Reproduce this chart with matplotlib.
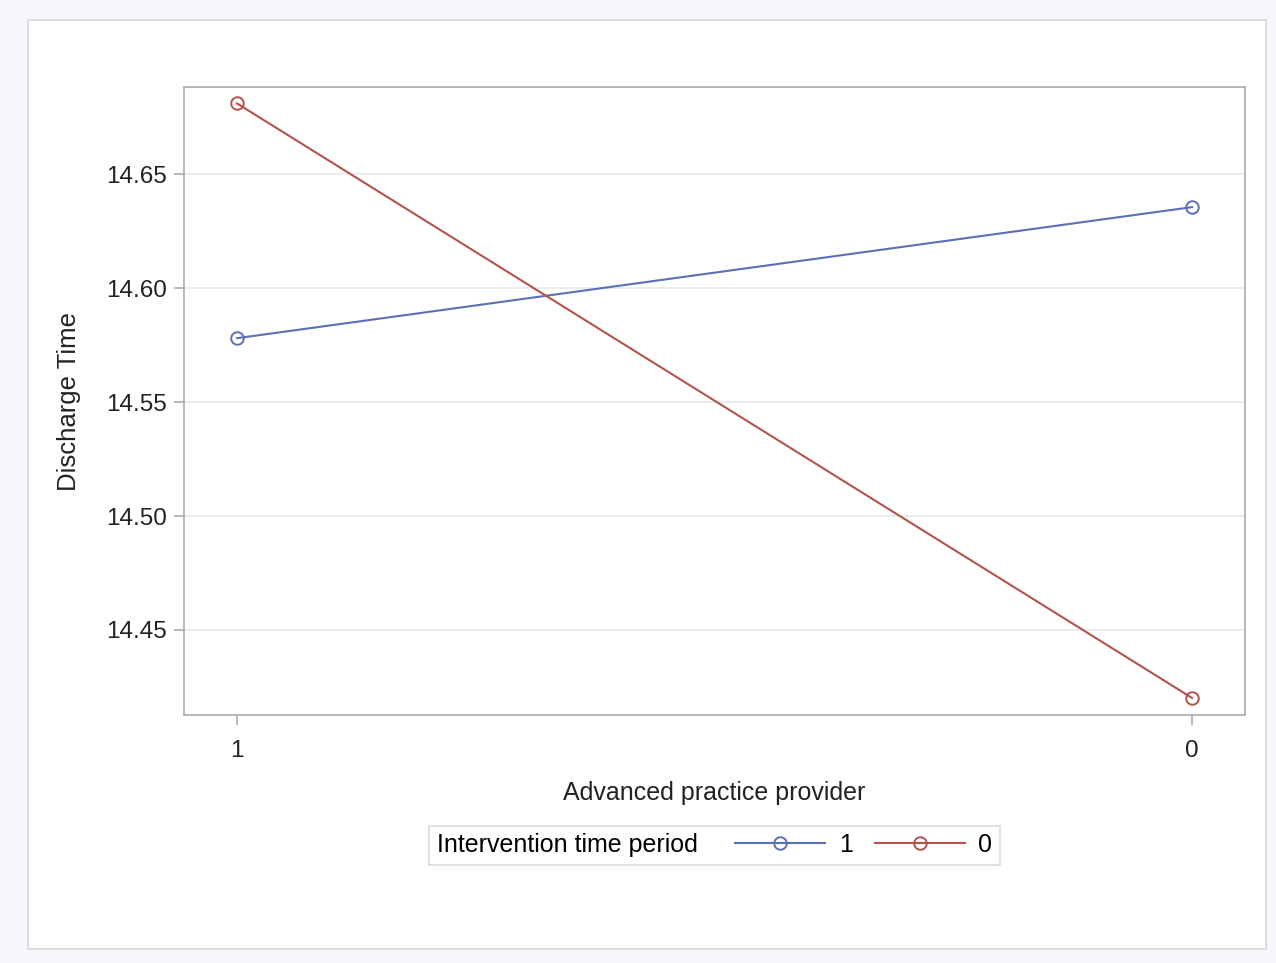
import matplotlib.pyplot as plt
from matplotlib.patches import Rectangle
from matplotlib.offsetbox import HPacker

plt.rcParams['font.family'] = ['Liberation Sans', 'DejaVu Sans']

# data
categories = ['1', '0']
period_labels = ['1', '0']
discharge_p1 = [14.578, 14.6355]
discharge_p0 = [14.681, 14.4202]
yticks = [14.45, 14.50, 14.55, 14.60, 14.65]

blue = '#5d6fb4'
red = '#b4534b'
grey = '#a9adb1'

fig = plt.figure(figsize=(12.76, 9.63), dpi=100)
fig.patch.set_facecolor('#f6f7fb')

# white panel with a thin border
fig.patches.append(Rectangle((28 / 1276, 1 - 949 / 963), (1266 - 28) / 1276, (949 - 20) / 963,
                             transform=fig.transFigure, facecolor='white',
                             edgecolor='#d3d6da', linewidth=1.2, zorder=-1))

ax = fig.add_axes([184 / 1276, 1 - 715 / 963, (1245 - 184) / 1276, (715 - 87) / 963])
x = list(range(len(categories)))

ax.plot(x, discharge_p1, color=blue, lw=1.5, marker='o', ms=9, mfc='none',
        mew=1.4, label=period_labels[0], zorder=3)
ax.plot(x, discharge_p0, color=red, lw=1.5, marker='o', ms=9, mfc='none',
        mew=1.4, label=period_labels[1], zorder=3)

ax.set_xlim(-0.0555, 1.0555)
ax.set_ylim(14.4127, 14.6882)
ax.set_xticks(x)
ax.set_xticklabels(categories)
ax.set_yticks(yticks)
ax.set_yticklabels(['%.2f' % v for v in yticks])

ax.grid(True, axis='y', color='#e6e7e9', lw=1.1)
ax.set_axisbelow(True)
for s in ax.spines.values():
    s.set_color(grey)
    s.set_linewidth(1.2)
ax.tick_params(axis='both', colors=grey, labelcolor='#222222', labelsize=17.5,
               length=7, width=1.2)
ax.tick_params(axis='x', pad=11)
ax.tick_params(axis='y', pad=5)

ax.set_xlabel('Advanced practice provider', fontsize=18, color='#222222', labelpad=14)
ax.set_ylabel('Discharge Time', fontsize=18.5, color='#222222', labelpad=18)

leg = fig.legend(loc='center', bbox_to_anchor=(714.5 / 1276, 1 - 845 / 963), ncol=2,
                 title='Intervention time period', title_fontsize=18, fontsize=18,
                 frameon=True, fancybox=False, edgecolor='#cfd2d6',
                 handlelength=3.6, handletextpad=0.55, columnspacing=0.88,
                 borderpad=0.3)
leg.get_frame().set_linewidth(1.2)
# put the title on the same row as the entries
box = leg.get_children()[0]
title_box, entries = box.get_children()
box._children = [HPacker(pad=0, sep=27, children=[title_box, entries], align='center')]

fig.savefig('out.png', dpi=100, facecolor=fig.get_facecolor())
